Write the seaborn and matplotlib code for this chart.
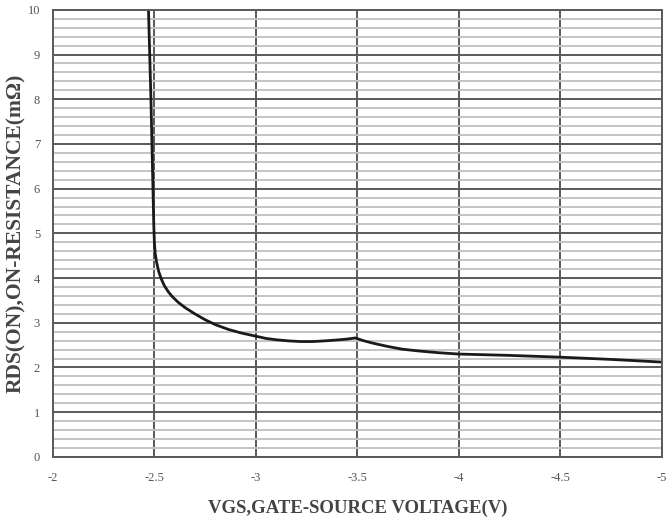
import numpy as np
import pandas as pd
import matplotlib
matplotlib.use("Agg")
import matplotlib.pyplot as plt
import seaborn as sns
from matplotlib.ticker import MultipleLocator

# Data
vgs = [-2.472, -2.478, -2.484, -2.489, -2.494, -2.498, -2.501, -2.505, -2.512, -2.522,
       -2.535, -2.55, -2.57, -2.59, -2.62, -2.655, -2.70, -2.75, -2.80, -2.866,
       -2.93, -3.0, -3.05, -3.10, -3.16, -3.22, -3.28, -3.34, -3.40, -3.45,
       -3.49, -3.53, -3.58, -3.65, -3.72, -3.80, -3.90, -4.0, -4.25, -4.5,
       -4.75, -5.0]
rds = [10.0, 9.0, 8.0, 7.0, 6.0, 5.2, 4.8, 4.55, 4.35, 4.15,
       3.98, 3.83, 3.69, 3.58, 3.45, 3.33, 3.2, 3.07, 2.96, 2.85,
       2.77, 2.70, 2.65, 2.62, 2.595, 2.58, 2.58, 2.595, 2.615, 2.635,
       2.66, 2.60, 2.54, 2.47, 2.41, 2.37, 2.33, 2.30, 2.27, 2.23,
       2.18, 2.12]
x_ticks = [-2, -2.5, -3, -3.5, -4, -4.5, -5]
x_tick_labels = ["-2", "-2.5", "-3", "-3.5", "-4", "-4.5", "-5"]
y_ticks = list(range(0, 11))

df = pd.DataFrame({"VGS": vgs, "RDS": rds})

sns.set_theme(style="white")
plt.rcParams['font.family'] = ['Liberation Serif', 'DejaVu Serif']

fig = plt.figure(figsize=(6.66, 5.18), dpi=100)
ax = fig.add_axes([0.079, 0.118, 0.915, 0.863])

# grid
ax.yaxis.set_minor_locator(MultipleLocator(0.2))
ax.set_yticks(y_ticks)
ax.set_xticks(x_ticks)
ax.set_xticklabels(x_tick_labels)
ax.grid(which="minor", axis="y", color="#c4c4c4", linewidth=1.4)
ax.grid(which="major", axis="both", color="#5a5a5a", linewidth=1.4)
ax.set_axisbelow(True)

sns.lineplot(data=df, x="VGS", y="RDS", sort=False, estimator=None,
             color="#1a1a1a", linewidth=2.0, ax=ax)

ax.set_xlim(-2, -5)
ax.set_ylim(0, 10)

for s in ["left", "bottom", "right", "top"]:
    ax.spines[s].set_visible(True)
    ax.spines[s].set_color("#5a5a5a")
    ax.spines[s].set_linewidth(1.4)

ax.tick_params(axis="both", which="both", length=0, labelsize=9, labelcolor="#555555")
ax.tick_params(axis="x", pad=11)
ax.tick_params(axis="y", pad=9)

ax.set_xlabel("VGS,GATE-SOURCE VOLTAGE(V)", fontsize=13.5, fontweight="bold",
              color="#444444", labelpad=11)
ax.set_ylabel("RDS(ON),ON-RESISTANCE(mΩ)", fontsize=15.5, fontweight="bold",
              color="#444444")
ax.yaxis.set_label_coords(-0.044, 0.5)

fig.savefig("out.png", dpi=100, facecolor="white")
